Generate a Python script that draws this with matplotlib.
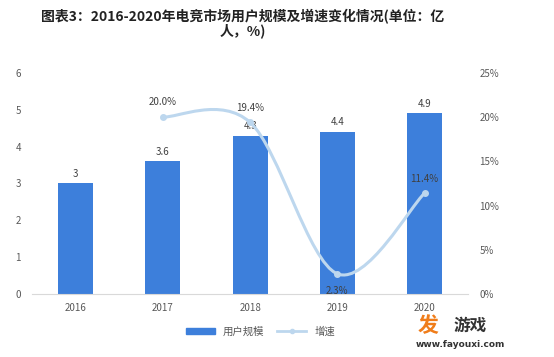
import numpy as np
import matplotlib.pyplot as plt
from matplotlib.path import Path
from matplotlib.patches import PathPatch
from matplotlib.lines import Line2D
from matplotlib.patches import Patch

plt.rcParams['font.family'] = ['Noto Sans CJK SC', 'DejaVu Sans']

years = ['2016', '2017', '2018', '2019', '2020']
users = [3, 3.6, 4.3, 4.4, 4.9]          # 亿人
growth_years = [1, 2, 3, 4]              # index into years
growth = [20.0, 19.4, 2.3, 11.4]         # %

bar_color = '#3d7fdb'
line_color = '#bdd7ee'
text_gray = '#595959'

fig = plt.figure(figsize=(5.54, 3.57), dpi=100)
ax = fig.add_axes([0.058, 0.176, 0.787, 0.62])
ax2 = ax.twinx()

x = np.arange(len(years))
ax.bar(x, users, width=0.4, color=bar_color, zorder=2)
for xi, v in zip(x, users):
    ax.text(xi, v + 0.12, f'{v:g}', ha='center', va='bottom', fontsize=7, color='#404040')

ax.set_xlim(-0.5, 4.5)
ax.set_ylim(0, 6)
ax.set_xticks(x)
ax.set_xticklabels(years)
ax.set_yticks(range(7))
ax2.set_ylim(0, 25)
ax2.set_yticks(range(0, 26, 5))
ax2.set_yticklabels([f'{t}%' for t in range(0, 26, 5)])

for a in (ax, ax2):
    for s in a.spines.values():
        s.set_visible(False)
    a.tick_params(length=0, labelsize=7, colors=text_gray)
ax.spines['bottom'].set_visible(True)
ax.spines['bottom'].set_color('#d9d9d9')
ax.tick_params(axis='x', pad=6)
ax.tick_params(axis='y', pad=8)
ax2.tick_params(axis='y', pad=8)

# smooth line (cubic bezier through the points, like Excel's smoothed line)
gx = np.array(growth_years, dtype=float)
gy = np.array(growth, dtype=float)
verts = [(gx[0], gy[0])]
codes = [Path.MOVETO]
t = 1 / 6
for i in range(len(gx) - 1):
    p0 = (gx[max(i - 1, 0)], gy[max(i - 1, 0)])
    p1 = (gx[i], gy[i])
    p2 = (gx[i + 1], gy[i + 1])
    p3 = (gx[min(i + 2, len(gx) - 1)], gy[min(i + 2, len(gx) - 1)])
    c1 = (p1[0] + (p2[0] - p0[0]) * t, p1[1] + (p2[1] - p0[1]) * t)
    c2 = (p2[0] - (p3[0] - p1[0]) * t, p2[1] - (p3[1] - p1[1]) * t)
    verts += [c1, c2, p2]
    codes += [Path.CURVE4] * 3
ax2.add_patch(PathPatch(Path(verts, codes), facecolor='none', edgecolor=line_color,
                        lw=2.2, zorder=3))
ax2.plot(gx, gy, 'o', color=line_color, ms=4, zorder=4)

offsets = [7, 7, -9, 7]
for xi, v, off in zip(gx, gy, offsets):
    ax2.annotate(f'{v:.1f}%', (xi, v), xytext=(0, off), textcoords='offset points',
                 ha='center', va='bottom' if off > 0 else 'top', fontsize=7, color='#404040')

fig.text(0.438, 0.975, '图表3：2016-2020年电竞市场用户规模及增速变化情况(单位：亿\n人，%)',
         ha='center', va='top', fontsize=10, fontweight='bold', color='#222222',
         linespacing=0.95)

handles = [Patch(color=bar_color, label='用户规模'),
           Line2D([0], [0], color=line_color, lw=2, marker='o', ms=3, label='增速')]
fig.legend(handles=handles, loc='center', bbox_to_anchor=(0.47, 0.072), ncol=2,
           frameon=False, fontsize=7.5, handlelength=2.8, handleheight=0.5,
           columnspacing=1.2, labelcolor=text_gray)

fig.text(0.773, 0.088, '发', fontsize=15, fontweight='bold', color='#f07d1a', ha='center', va='center')
fig.text(0.848, 0.088, '游戏', fontsize=12, fontweight='bold', color='#333333', ha='center', va='center')
fig.text(0.831, 0.035, 'www.fayouxi.com', fontsize=6.5, fontweight='bold', color='#333333',
         ha='center', va='center', family='DejaVu Sans')

fig.savefig('out.png', dpi=100)
